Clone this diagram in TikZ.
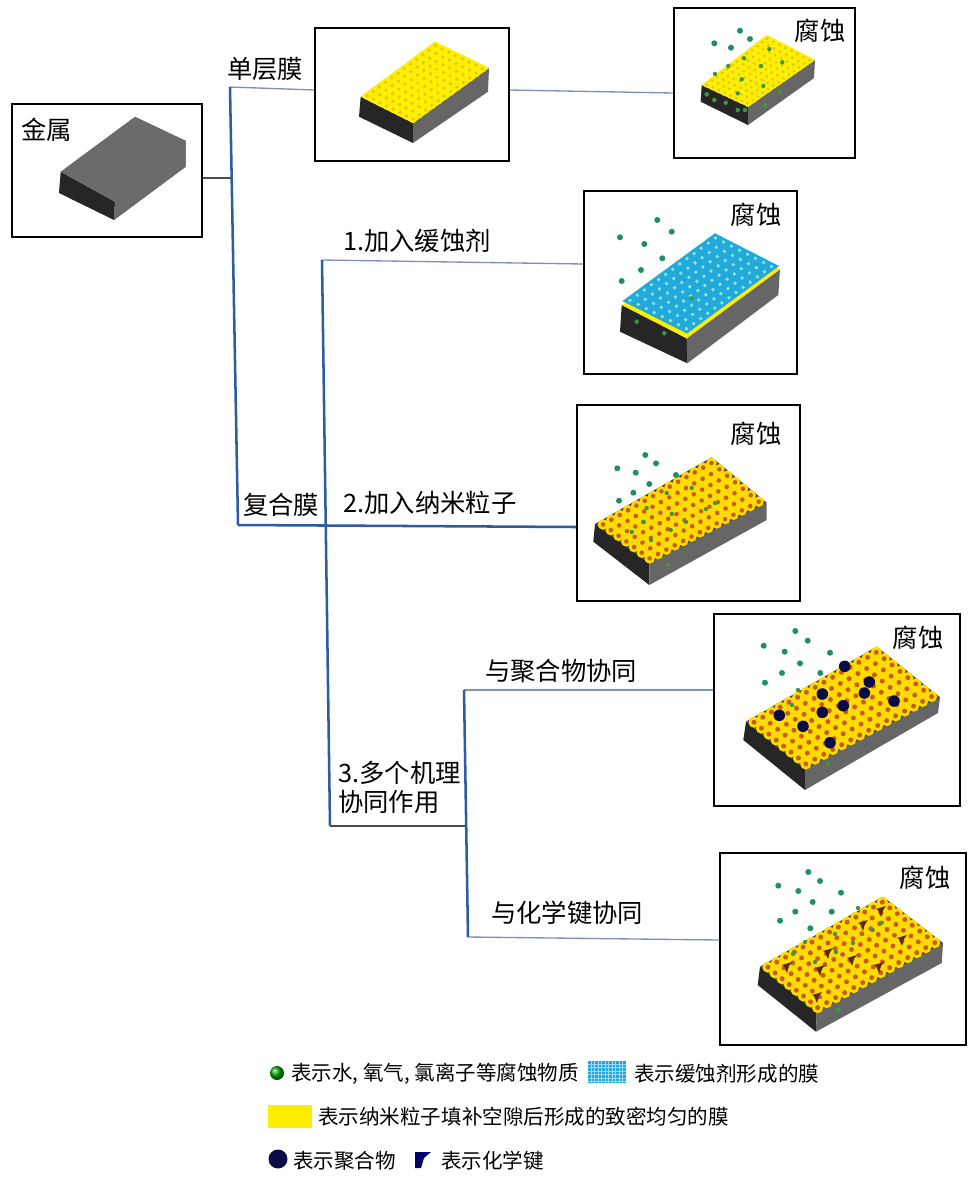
\documentclass[tikz,border=0pt]{standalone}
\usepackage{fontspec}
\setmainfont{Liberation Serif}
\newfontfamily\cjk{Noto Sans CJK SC}
\usetikzlibrary{calc}
\definecolor{trunkblue}{HTML}{2F5C9E}
\definecolor{twigblue}{HTML}{7F8FB8}
\definecolor{corrgreen}{HTML}{1F8F68}
\definecolor{filmyellow}{HTML}{FFEE00}
\definecolor{filmspot}{HTML}{D6C814}
\definecolor{nanoyellow}{HTML}{FFDC00}
\definecolor{nanored}{HTML}{CC5A1C}
\definecolor{filmblue}{HTML}{22A9DC}
\definecolor{filmspotb}{HTML}{8FE3D2}
\definecolor{polynavy}{HTML}{0B0B45}
\definecolor{bondbrown}{HTML}{5A2A18}
\definecolor{notch}{HTML}{4A3A20}
\tikzset{
  panel/.style={draw,line width=1.1pt,fill=white,inner sep=0pt},
  trunk/.style={draw=trunkblue,line width=1.9pt},
  twig/.style={draw=twigblue,line width=1pt},
  biglabel/.style={font=\cjk\fontsize{19}{20}\selectfont,inner sep=0pt},
  keylabel/.style={font=\cjk\fontsize{15.4}{17}\selectfont,inner sep=0pt,anchor=west},
}
% left, top, right, front of the top face, then left, front, right of the foot
\newcommand{\slab}[7]{
  \coordinate (L) at #1; \coordinate (T) at #2; \coordinate (R) at #3; \coordinate (F) at #4;
  \fill[black!85] (L) -- (F) -- #6 -- #5 -- cycle;
  \fill[black!60] (F) -- (R) -- #7 -- #6 -- cycle;
}
\newcommand{\gridpt}[2]{($($(L)!#1!(T)$)!#2!($(F)!#1!(R)$)$)}
% n by m cells: edge colour, film colour, disc radius, spot colour, spot radius
\newcommand{\topdots}[7]{
  \fill[#3] (L) -- (T) -- (R) -- (F) -- cycle;
  \pgfmathsetmacro{\ua}{0.5/(#1+1)} \pgfmathsetmacro{\ub}{1-\ua}
  \pgfmathsetmacro{\va}{0.5/(#2+1)} \pgfmathsetmacro{\vb}{1-\va}
  \fill[#4] \gridpt{\ua}{\va} -- \gridpt{\ub}{\va} -- \gridpt{\ub}{\vb} -- \gridpt{\ua}{\vb} -- cycle;
  \foreach \i in {0,...,#1} \foreach \j in {0,...,#2} {
    \pgfmathsetmacro{\u}{(\i+0.5)/(#1+1)}
    \pgfmathsetmacro{\v}{(\j+0.5)/(#2+1)}
    \fill[#4] \gridpt{\u}{\v} circle (#5);
  }
  \foreach \i in {0,...,#1} \foreach \j in {0,...,#2} {
    \pgfmathsetmacro{\u}{(\i+0.5)/(#1+1)}
    \pgfmathsetmacro{\v}{(\j+0.5)/(#2+1)}
    \fill[#6] \gridpt{\u}{\v} circle (#7);
  }
}
\newcommand{\grains}[1]{
  \foreach \p in {#1} \fill[corrgreen] \p circle (3);
}
\newcommand{\sunkgrains}[1]{
  \foreach \p in {#1} \fill[green!45!black!75] \p circle (2.2);
}
\begin{document}
\begin{tikzpicture}[x=0.75pt,y=-0.75pt]
    \useasboundingbox (0,0) rectangle (969,1183);
    % panels
    \node[panel,minimum width=142.5pt,minimum height=99.75pt] (metal) at (107,170.5) {};
    \node[panel,minimum width=145.5pt,minimum height=99.75pt] (single) at (412,94.5) {};
    \node[panel,minimum width=135.75pt,minimum height=112.5pt] (corrA) at (764.5,83) {};
    \node[panel,minimum width=159.75pt,minimum height=137.25pt] (corrB) at (690.5,282.5) {};
    \node[panel,minimum width=167.25pt,minimum height=147pt] (corrC) at (688.5,503) {};
    \node[panel,minimum width=184.5pt,minimum height=144pt] (corrD) at (837,710) {};
    \node[panel,minimum width=184.5pt,minimum height=144pt] (corrE) at (843,949) {};
    % connectors
    \coordinate (top1) at (230,87); \coordinate (foot1) at (238,525); \coordinate (hub1) at (231,178);
    \coordinate (top2) at (322,260); \coordinate (foot2) at (330,826);
    \coordinate (top3) at (464,690); \coordinate (foot3) at (468,937); \coordinate (hub3) at (466.5,826);
    \draw[black!70,line width=0.9pt] (metal.east |- hub1) -- (hub1);
    \draw[twig] (single.east |- 0,90) -- (corrA.west |- 0,93);
    \draw[twig] (top1) -- (single.west |- 0,90);
    \draw[twig] (top2) -- (corrB.west |- 0,264);
    \draw[trunk] (foot1) -- (corrC.west |- 0,527);
    \draw[twig] (top3) -- (corrD.west |- 0,690);
    \draw[twig] (foot3) -- (corrE.west |- 0,940);
    \draw[black!70,line width=0.9pt] (foot2) -- (hub3);
    \draw[trunk] (top1) -- (foot1);
    \draw[trunk] (top2) -- (foot2);
    \draw[trunk] (top3) -- (foot3);
    % bare metal
    \slab{(60.7,171.7)}{(135,116.7)}{(185.7,140.7)}{(115,201.7)}{(59,193)}{(114,220)}{(185.7,166.7)}
    \fill[black!58] (L) -- (T) -- (R) -- (185.7,166.7) -- (114,220) -- (F) -- cycle;
    % single film
    \slab{(360.7,96.7)}{(435,41.7)}{(489,68)}{(413,123)}{(359,116.7)}{(413,143)}{(488,91.7)}
    \topdots{11}{7}{filmyellow}{filmyellow}{3.9}{filmspot}{1.7}
    % single film, corroded
    \slab{(701.7,85)}{(766.7,35)}{(815,60)}{(748,106.7)}{(700.7,101.7)}{(748,125)}{(814,78)}
    \topdots{12}{7}{filmyellow}{filmyellow}{3.3}{filmspot}{1.5}
    \grains{(740,30.7),(750,39),(714.3,43.3),(731,47.7)}
    \sunkgrains{(769.3,49),(744,58.3),(728.3,66),(761,66),(782.3,62.3),(715,74),(741.7,79.3),(763.3,86),(737.7,93.3),(706.7,94.3),(714.3,100),(725.7,102.7),(737.7,110),(745,110),(780,92),(765,105)}
    % inhibitor film
    \slab{(621.7,305)}{(715,233.3)}{(780,269.3)}{(686.7,338.3)}{(620,331.7)}{(687.3,363.3)}{(778.3,295)}
    \fill[filmyellow] (L) -- (T) -- (R) -- (F) -- cycle;
    \coordinate (L) at (622.5,301); \coordinate (F) at (687,333.5); \coordinate (R) at (779,266);
    \topdots{12}{7}{filmblue}{filmblue}{3.6}{filmspotb}{1.9}
    \grains{(657.3,220),(671.7,231.7),(620,237.3),(644.3,244),(662.3,258.3),(641,270),(621.7,281)}
    \sunkgrains{(691.7,298.3),(636.7,321.7),(664.3,333.3)}
    % nano film
    \slab{(595,524)}{(711.7,457.3)}{(766.7,502.7)}{(649.3,563.3)}{(593.3,541.7)}{(649.3,585)}{(766.7,520)}
    \topdots{13}{6}{notch}{nanoyellow}{5.3}{nanored}{2.3}
    \grains{(645.3,455),(656,463.3),(617.3,468.3),(635.7,472.7),(676,475),(649.3,484),(633.3,492.7),(619,500.7)}
    \sunkgrains{(666.7,493),(691.7,488),(715,503),(706,509),(646.7,508),(671.7,514),(686,522),(643,522),(631.7,532),(651,540),(670.7,530),(668,565)}
    % with polymer
    \slab{(746,721.7)}{(876.7,646.7)}{(940,697.3)}{(805,769.3)}{(743.3,740)}{(805,790)}{(938,713)}
    \topdots{14}{7}{notch}{nanoyellow}{5.6}{nanored}{2.5}
    \grains{(795.3,631),(807.7,640.7),(763.7,645.7),(784.7,651.7),(830,652.7),(800,663.3),(782,673),(820.3,673),(765,682.7)}
    \sunkgrains{(798,690),(792,705),(828,764)}
    \foreach \p in {(844.7,666.3),(869.3,682),(864.3,693),(894,701),(822.3,694),(843.3,705.7),(822.3,712.3),(779.3,715.3),(803,726.3),(830,742.7)}
      \fill[polynavy] \p circle (5.8);
    % with chemical bond
    \slab{(760,966.7)}{(883,896.7)}{(943,943)}{(816.7,1013)}{(757.7,985)}{(816,1031.7)}{(941.7,963)}
    \topdots{13}{7}{notch}{nanoyellow}{5.6}{nanored}{2.5}
    \grains{(808.3,872),(820,881),(778.3,885.7),(798.3,891),(841,892.7),(812.7,902),(795.3,911.7),(831.7,911.7),(780,920.7),(810.3,928.3)}
    \sunkgrains{(858,908),(881.7,922.7),(872.7,930),(835,934),(805,942),(853,943),(836,952),(793,954),(815,962),(838,1010)}
    \foreach \p in {(876,909),(858,923),(897,938),(823,951),(847,958),(782,965),(815,968),(874,965),(812,995)}
      \fill[bondbrown] \p -- ++(10,-3) -- ++(-3,4) -- ++(-2,7) -- ++(-3,-7) -- cycle;
    % labels
    \node[biglabel] (lmetal) at (47,130) {金属};
    \node[biglabel] (lsingle) at (265,69) {单层膜};
    \node[biglabel] (lfirst) at (417,241) {1.加入缓蚀剂};
    \node[biglabel] (lcomp) at (281,505) {复合膜};
    \node[biglabel] (lsecond) at (430,503) {2.加入纳米粒子};
    \node[biglabel] (lpoly) at (561,671) {与聚合物协同};
    \node[biglabel,anchor=west] (lthird) at (338,773) {3.多个机理};
    \node[biglabel,anchor=west] (lsyn) at (338,802) {协同作用};
    \node[biglabel] (lbond) at (567,913) {与化学键协同};
    \node[biglabel] (ca) at (820,31) {腐蚀};
    \node[biglabel] (cb) at (756,215) {腐蚀};
    \node[biglabel] (cc) at (756,434) {腐蚀};
    \node[biglabel] (cd) at (918,638) {腐蚀};
    \node[biglabel] (ce) at (925,878) {腐蚀};
    % key
    \shade[ball color=green!65!black] (277,1073) circle (7);
    \node[keylabel] (ka) at (291,1074) {表示水, 氧气, 氯离子等腐蚀物质};
    \fill[filmblue] (588,1061) rectangle (626,1083);
    \foreach \gx in {591,594.5,...,625} \draw[white!55!filmblue,line width=0.3pt] (\gx,1061) -- (\gx,1083);
    \foreach \gy in {1064,1067.5,...,1082} \draw[white!55!filmblue,line width=0.3pt] (588,\gy) -- (626,\gy);
    \node[keylabel] (kb) at (634,1074) {表示缓蚀剂形成的膜};
    \fill[filmyellow] (268,1105) rectangle (312,1128);
    \node[keylabel] (kc) at (318,1117) {表示纳米粒子填补空隙后形成的致密均匀的膜};
    \fill[polynavy] (278,1159) circle (9.5);
    \node[keylabel] (kd) at (293,1161) {表示聚合物};
    \fill[black!25!blue!55!black] (415,1152) -- (431,1152) -- (424,1158) -- (421,1168) -- (415,1168) -- cycle;
    \node[keylabel] (ke) at (441,1161) {表示化学键};
  \end{tikzpicture}
\end{document}
